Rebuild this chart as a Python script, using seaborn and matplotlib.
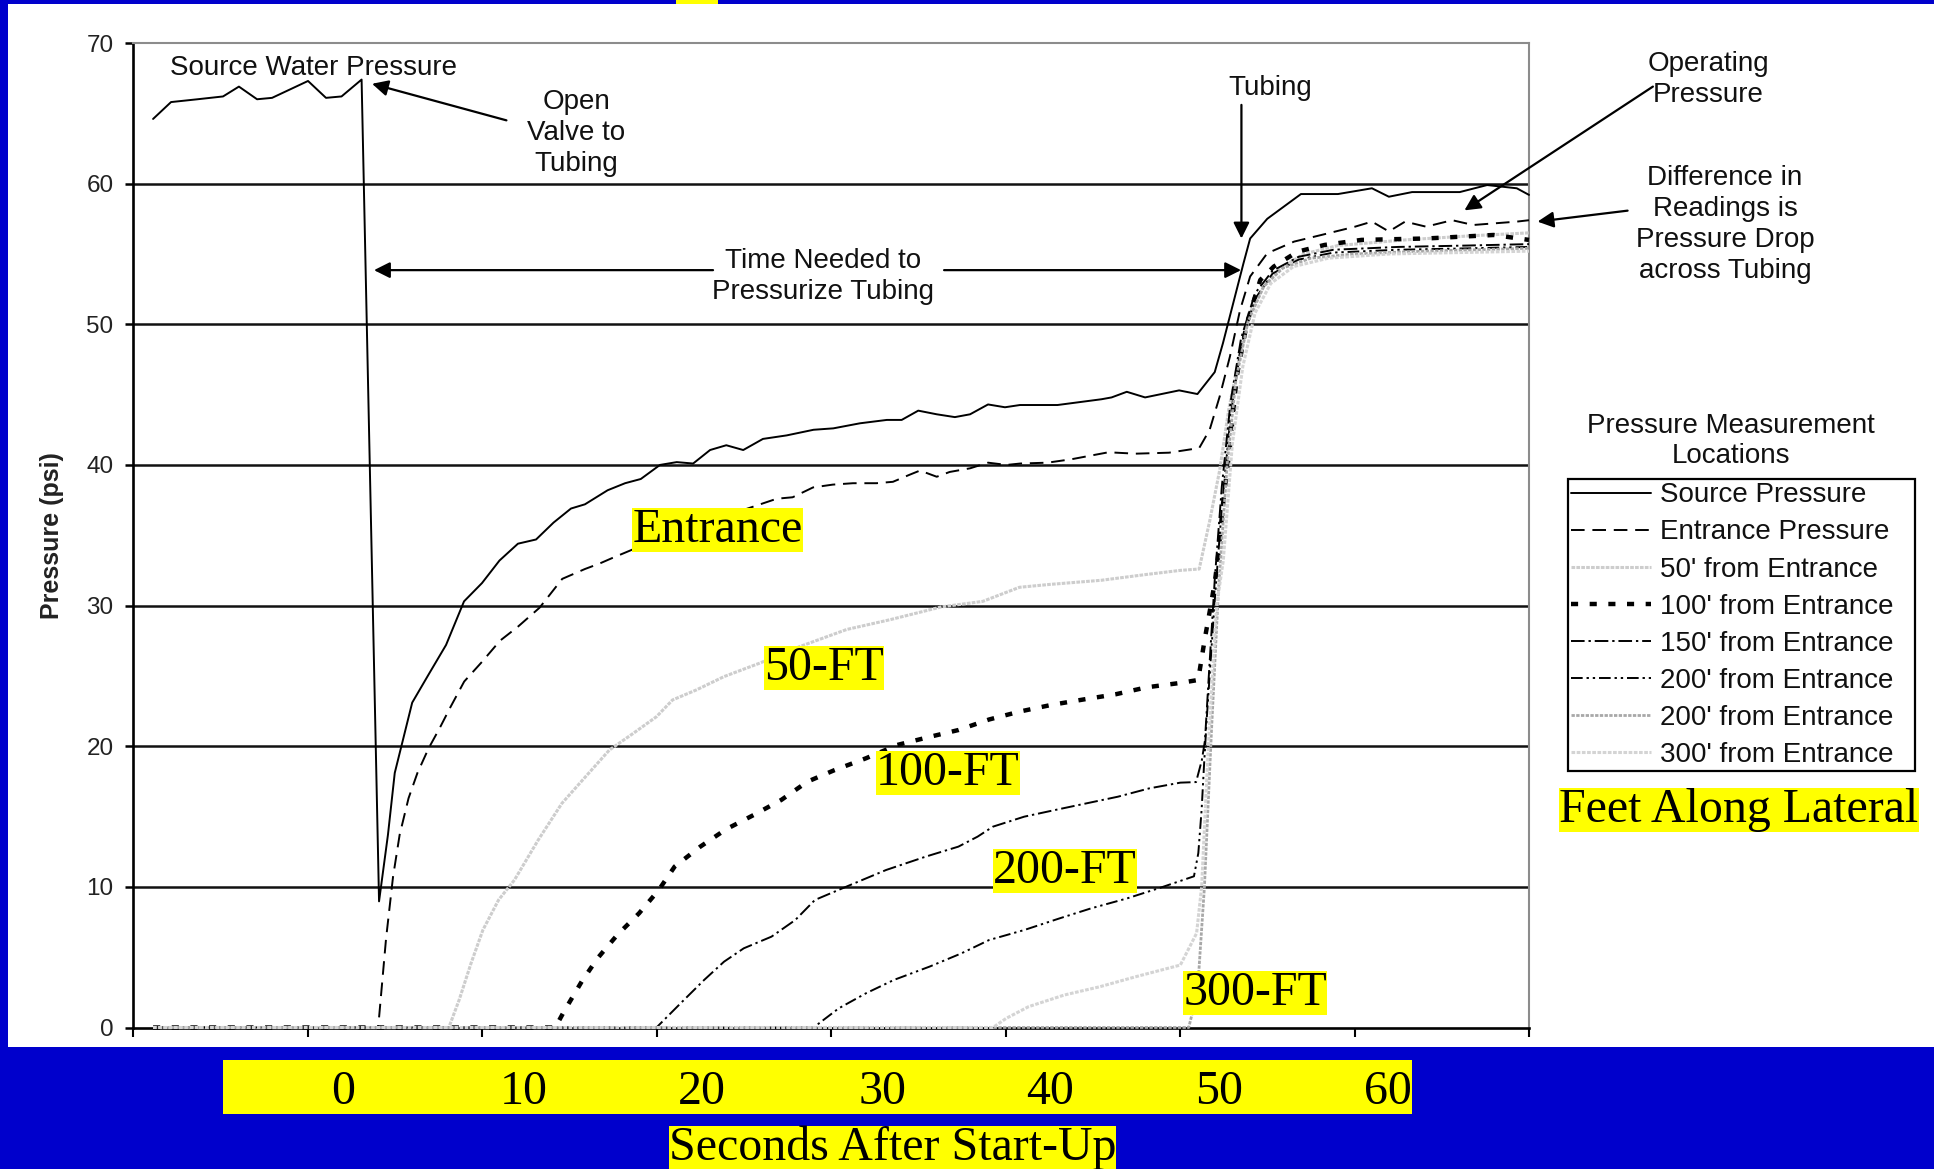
import numpy as np
import pandas as pd
import matplotlib
matplotlib.use("Agg")
import matplotlib.pyplot as plt
from matplotlib.patches import Rectangle
import seaborn as sns

# ---------------- DATA (seconds, psi) ----------------
src_t = [-8.85, -7.82, -6.3, -4.84, -3.93, -2.89, -2.03, 0.03, 1.06, 1.95, 3.10,
         4.10, 4.61, 5.0, 5.4, 6.0, 6.94, 7.94, 8.97, 10.0, 11.0, 12.06, 13.1, 14.1,
         15.1, 15.9, 17.2, 18.2, 19.1, 20.2, 21.16, 22.1, 23.07, 24.0, 24.97, 26.1,
         27.46, 29.0, 30.13, 31.66, 33.2, 34.05, 35.0, 36.06, 37.1, 37.97, 39.0,
         39.97, 40.83, 42.98, 45.5, 46.08, 46.95, 48.0, 49.95, 51.0, 51.99, 52.46,
         53.05, 53.63, 54.02, 55.0, 56.93, 59.05, 61.0, 61.97, 63.3, 66.03, 67.6,
         69.3, 70.0]
src_p = [64.6, 65.8, 66.0, 66.2, 66.9, 66.0, 66.1, 67.3, 66.1, 66.2, 67.4,
         8.97, 13.7, 18.1, 20.1, 23.1, 25.1, 27.2, 30.3, 31.6, 33.2, 34.4, 34.7, 35.9,
         36.9, 37.2, 38.2, 38.7, 39.0, 40.0, 40.2, 40.1, 41.06, 41.4, 41.06, 41.85,
         42.1, 42.5, 42.6, 42.96, 43.2, 43.2, 43.86, 43.6, 43.4, 43.6, 44.3,
         44.1, 44.26, 44.26, 44.67, 44.8, 45.2, 44.8, 45.3, 45.04, 46.6, 48.65,
         51.5, 54.3, 56.1, 57.5, 59.26, 59.26, 59.67, 59.07, 59.4, 59.4, 59.9,
         59.67, 59.2]

ent_t = [-8.85, 4.05, 4.5, 4.9, 5.28, 5.79, 6.3, 6.94, 7.58, 8.2, 8.98, 10.0, 11.03,
         12.06, 13.3, 14.6, 15.9, 16.76, 17.5, 18.6, 20.5, 22.5, 24.5, 26.9, 27.8,
         28.97, 30.1, 31.26, 32.6, 33.55, 34.5, 35.1, 36.06, 36.8, 37.97, 39.0, 40.07,
         40.85, 42.4, 43.76, 45.9, 47.43, 49.37, 51.1, 51.7, 52.27, 52.86, 53.44,
         54.02, 55.0, 56.54, 58.1, 60.03, 61.0, 61.97, 62.9, 64.1, 65.6, 66.8, 69.3,
         70.0]
ent_p = [0.0, 0.0, 6.3, 10.7, 13.7, 16.3, 18.1, 19.85, 21.3, 22.8, 24.6, 26.0, 27.5,
         28.5, 29.85, 31.9, 32.6, 33.0, 33.4, 33.97, 34.8, 35.7, 36.6, 37.6, 37.7,
         38.4, 38.6, 38.7, 38.7, 38.8, 39.3, 39.6, 39.16, 39.5, 39.76, 40.16, 40.0,
         40.1, 40.16, 40.4, 40.9, 40.8, 40.87, 41.2, 42.5, 44.85, 47.7, 51.0,
         53.4, 55.05, 55.88, 56.35, 56.94, 57.3, 56.6, 57.3, 56.94, 57.4, 57.06, 57.3,
         57.4]

f50_t = [-8.85, 8.1, 8.69, 9.37, 10.05, 10.95, 11.86, 13.22, 14.58, 15.94, 17.3,
         18.65, 20.0, 20.92, 22.28, 23.87, 25.9, 28.2, 30.9, 33.4, 36.3, 38.7, 40.8,
         42.5, 45.5, 48.0, 50.0, 51.1, 51.7, 52.27, 52.8, 53.25, 54.0, 54.8, 55.77,
         57.1, 59.05, 62.9, 66.8, 70.0]
f50_p = [0.0, 0.0, 1.96, 4.56, 6.93, 9.07, 10.49, 13.33, 15.94, 17.84, 19.73,
         20.9, 22.1, 23.29, 24.0, 24.95, 25.9, 27.08, 28.3, 29.0, 29.9, 30.3, 31.3,
         31.5, 31.8, 32.2, 32.5, 32.6, 36.0, 39.6, 44.0, 46.75, 50.8, 52.7, 54.0,
         55.0, 55.6, 56.0, 56.3, 56.5]

f100_t = [-8.85, 14.2, 14.69, 15.71, 16.62, 17.75, 19.0, 20.13, 21.04, 22.51, 23.98,
          25.57, 27.15, 28.65, 30.2, 32.0, 33.8, 35.7, 37.3, 39.06, 40.8, 42.6, 44.5,
          46.3, 48.1, 50.02, 51.04, 51.43, 51.72, 52.0, 52.18, 52.47, 52.86, 53.25,
          53.83, 54.6, 55.37, 56.73, 58.28, 60.4, 64.1, 67.97, 70.0]
f100_p = [0.0, 0.0, 1.12, 3.26, 4.92, 6.58, 8.12, 9.78, 11.44, 12.86, 14.09,
          15.11, 16.18, 17.48, 18.3, 19.14, 20.09, 20.68, 21.15, 21.9, 22.46, 22.93,
          23.33, 23.69, 24.19, 24.5, 24.71, 27.7, 29.7, 31.7, 33.5, 37.27, 41.3, 46.3,
          50.07, 53.15, 54.1, 55.16, 55.64, 56.0, 56.1, 56.35, 56.0]

f150_t = [-8.85, 20.0, 21.38, 22.73, 23.87, 25.0, 26.59, 27.95, 29.08, 31.1, 33.16,
          35.43, 37.3, 38.4, 39.28, 41.07, 42.86, 44.65, 46.44, 48.23, 50.02, 50.92,
          51.25, 51.43, 51.7, 52.0, 52.4, 52.9, 53.5, 54.3, 55.3, 56.8, 58.8, 62.5,
          66.5, 70.0]
f150_p = [0.0, 0.0, 1.72, 3.38, 4.68, 5.63, 6.46, 7.64, 9.07, 10.13, 11.2,
          12.15, 12.86, 13.57, 14.28, 14.99, 15.47, 15.94, 16.41, 17.0, 17.41, 17.45,
          19.0, 20.4, 26.0, 32.0, 38.5, 44.5, 49.0, 52.2, 53.8, 54.8, 55.3, 55.5,
          55.6, 55.7]

f200_t = [-8.85, 29.0, 30.44, 32.0, 33.6, 35.65, 37.47, 39.06, 41.07, 43.1, 44.9,
          46.97, 48.9, 50.8, 51.05, 51.24, 51.37, 51.53, 51.72, 52.0, 52.4, 52.9,
          53.5, 54.3, 55.3, 56.8, 58.8, 62.5, 66.5, 70.0]
f200_p = [0.0, 0.0, 1.36, 2.43, 3.38, 4.33, 5.27, 6.22, 6.93, 7.76, 8.47,
          9.18, 9.95, 10.75, 12.4, 15.5, 18.5, 21.9, 25.4, 30.5, 37.0, 43.5,
          48.5, 51.8, 53.6, 54.6, 55.1, 55.3, 55.4, 55.5]

f250_t = [-8.85, 50.5, 51.0, 51.4, 51.8, 52.2, 52.7, 53.2, 53.9, 54.8, 55.9, 57.5,
          60.0, 64.0, 70.0]
f250_p = [0.0, 0.0, 2.5, 10.0, 21.0, 31.0, 40.0, 46.0, 50.2, 52.7, 54.0, 54.7,
          55.0, 55.2, 55.4]

f300_t = [-8.85, 39.28, 40.04, 41.32, 43.37, 45.41, 47.46, 50.02, 50.95, 51.24,
          51.62, 52.1, 52.48, 53.0, 53.6, 54.3, 55.2, 56.5, 58.5, 62.0, 66.0, 70.0]
f300_p = [0.0, 0.0, 0.65, 1.48, 2.31, 2.9, 3.61, 4.44, 6.7, 10.0,
          19.9, 30.0, 33.2, 41.5, 47.0, 50.8, 52.9, 54.1, 54.7, 55.0, 55.1, 55.2]

series_labels = ["Source Pressure", "Entrance Pressure", "50' from Entrance",
                 "100' from Entrance", "150' from Entrance", "200' from Entrance",
                 "200' from Entrance", "300' from Entrance"]
y_ticks = [0, 10, 20, 30, 40, 50, 60, 70]
x_ticks = [-10, 0, 10, 20, 30, 40, 50, 60, 70]
overlay_tick_labels = ["0", "10", "20", "30", "40", "50", "60"]
curve_labels = ["Entrance", "50-FT", "100-FT", "200-FT", "300-FT"]

# ---------------- STYLE ----------------
W, H = 1934, 1169
BLUE = "#0000CC"
YELLOW = "#FFFF00"
SANS = ["Liberation Sans", "DejaVu Sans"]
SERIF = ["Liberation Serif", "DejaVu Serif"]

sns.set_theme(style="white")
plt.rcParams["font.family"] = SANS

styles = [
    dict(color="black", lw=1.4, ls="-"),
    dict(color="black", lw=1.4, ls=(0, (7, 4))),
    dict(color="#cdcdcd", lw=2.2, ls=(0, (1.2, 0.4))),
    dict(color="black", lw=3.2, ls=(0, (1.6, 2.6))),
    dict(color="black", lw=1.4, ls=(0, (7, 2, 1.2, 2))),
    dict(color="black", lw=1.4, ls=(0, (6, 2, 1.2, 2, 1.2, 2))),
    dict(color="#a8a8a8", lw=2.0, ls=(0, (1.2, 0.5))),
    dict(color="#d4d4d4", lw=2.2, ls=(0, (1.2, 0.5))),
]
series = [(src_t, src_p), (ent_t, ent_p), (f50_t, f50_p), (f100_t, f100_p),
          (f150_t, f150_p), (f200_t, f200_p), (f250_t, f250_p), (f300_t, f300_p)]


def fx(px):
    return px / W


def fy(py):
    return 1 - py / H


fig = plt.figure(figsize=(W / 100, H / 100), dpi=100, facecolor=BLUE)
# white slide panel
fig.add_artist(Rectangle((fx(8), fy(1046.7)), 1 - fx(8), (1046.7 - 4) / H,
                         transform=fig.transFigure, facecolor="white",
                         edgecolor="none", zorder=0))
fig.add_artist(Rectangle((fx(676), fy(4)), (718 - 676) / W, 4 / H,
                         transform=fig.transFigure, facecolor=YELLOW,
                         edgecolor="none", zorder=0))

ax = fig.add_axes([fx(133), fy(1027.5), (1529 - 133) / W, (1027.5 - 43) / H])
ax.set_facecolor("white")

for (t, p), st, lab in zip(series, styles, series_labels):
    df = pd.DataFrame({"t": t, "p": p})
    sns.lineplot(data=df, x="t", y="p", ax=ax, estimator=None, sort=False,
                 color=st["color"], linewidth=st["lw"], linestyle=st["ls"],
                 label=lab, zorder=3, clip_on=False)

ax.set_xlim(-10, 70)
ax.set_ylim(0, 70)
ax.set_xticks(x_ticks)
ax.set_yticks(y_ticks)
ax.set_yticklabels([str(v) for v in y_ticks])
ax.tick_params(axis="x", bottom=True, direction="out", length=6.5, width=1.5,
               color="black", labelbottom=False)
ax.tick_params(axis="y", left=True, direction="out", length=6, width=1.8,
               color="black", labelsize=17.5, labelcolor="#222222", pad=8)
ax.set_xlabel("")
ax.yaxis.grid(True, color="#111111", lw=1.8, zorder=1)
ax.xaxis.grid(False)
ax.set_axisbelow(True)
for gl, v in zip(ax.get_ygridlines(), y_ticks):
    if v in (0, 70):
        gl.set_visible(False)
for side in ("left", "bottom"):
    ax.spines[side].set_color("black")
    ax.spines[side].set_linewidth(1.9)
for side in ("top", "right"):
    ax.spines[side].set_color("#8c8c8c")
    ax.spines[side].set_linewidth(1.5)

ax.set_ylabel("Pressure (psi)", fontsize=18, fontweight="bold", color="#222222")
ax.yaxis.set_label_coords(-0.0494, 0.5)

# legend
leg = ax.legend(handles=ax.lines[:8], labels=series_labels, loc="upper left",
                bbox_to_anchor=(fx(1568), fy(768), (1915 - 1568) / W, (768 - 479) / H),
                bbox_transform=fig.transFigure, mode="expand",
                frameon=True, fancybox=False, edgecolor="black", framealpha=1,
                borderaxespad=0, borderpad=0.12, handlelength=2.85,
                handletextpad=0.33, labelspacing=0.4, fontsize=20)
leg.get_frame().set_linewidth(1.6)
for txt in leg.get_texts():
    txt.set_color("#111111")
fig.text(fx(1731), fy(441), "Pressure Measurement\nLocations", ha="center",
         va="center", fontsize=20, linespacing=1.2, color="#111111")

# annotations
arrow = dict(arrowstyle="-|>", color="black", lw=1.6, mutation_scale=24,
             shrinkA=0, shrinkB=0)
atext = dict(ha="center", va="center", fontsize=20, linespacing=1.25,
             color="#111111", clip_on=False, zorder=6)
ax.text(0.37, 68.2, "Source Water Pressure", **atext)
ax.text(15.39, 63.6, "Open\nValve to\nTubing", **atext)
ax.annotate("", xy=(3.7, 67.1), xytext=(11.4, 64.5), arrowprops=arrow,
            annotation_clip=False)
ax.text(55.2, 66.8, "Tubing", **atext)
ax.annotate("", xy=(53.52, 56.1), xytext=(53.52, 65.6), arrowprops=arrow,
            annotation_clip=False)
ax.text(80.26, 67.4, "Operating\nPressure", **atext)
ax.annotate("", xy=(66.3, 58.1), xytext=(77.1, 66.9), arrowprops=arrow,
            annotation_clip=False)
ax.text(81.23, 57.1, "Difference in\nReadings is\nPressure Drop\nacross Tubing",
        **atext)
ax.annotate("", xy=(70.49, 57.3), xytext=(75.65, 58.08), arrowprops=arrow,
            annotation_clip=False)
ax.text(29.54, 53.4, "Time Needed to\nPressurize Tubing", **atext)
ax.annotate("", xy=(3.81, 53.85), xytext=(23.24, 53.85), arrowprops=arrow,
            annotation_clip=False)
ax.annotate("", xy=(53.5, 53.85), xytext=(36.48, 53.85), arrowprops=arrow,
            annotation_clip=False)

# yellow overlay labels (Times-like)
ybox = dict(boxstyle="square,pad=0", facecolor=YELLOW, edgecolor="none")
otext = dict(ha="center", va="baseline", fontsize=34.5, family=SERIF,
             color="black", bbox=ybox, zorder=7)
curve_label_pos = [(23.5, 34.5), (29.6, 24.71), (36.69, 17.24), (43.41, 10.3),
                   (54.3, 1.6)]
for s, (xx, yy) in zip(curve_labels, curve_label_pos):
    ax.text(xx, yy, s, clip_on=False, **otext)

fig.text(fx(1739), fy(821.7), "Feet Along Lateral", **otext)

# x tick overlay (yellow band)
fig.add_artist(Rectangle((fx(223), fy(1114)), (1412 - 223) / W, (1114 - 1060) / H,
                         transform=fig.transFigure, facecolor=YELLOW,
                         edgecolor="none", zorder=1))
tick_overlay_px = [342.9, 524.2, 701.8, 883.0, 1049.6, 1218.6, 1387.5]
for s, px in zip(overlay_tick_labels, tick_overlay_px):
    fig.text(fx(px), fy(1104), s, ha="center", va="baseline", fontsize=34.5,
             family=SERIF, color="black", zorder=2)
fig.text(fx(892.5), fy(1160), "Seconds After Start-Up", **otext)

fig.savefig("out.png", dpi=100, facecolor=BLUE)
